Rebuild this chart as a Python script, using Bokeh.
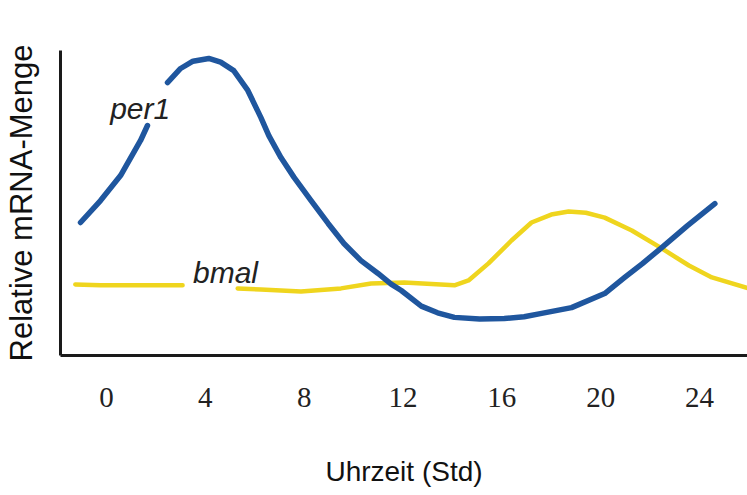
from bokeh.plotting import figure
from bokeh.models import Label, Range1d, FixedTicker
from bokeh.embed import file_html
from bokeh.resources import INLINE

NaN = float("nan")

# x ticks (hours)
tick_hours = [0, 4, 8, 12, 16, 20, 24]

# per1 (blue), gap where the label sits
per1_hours = [-1.05, -0.24, 0.57, 1.38, 1.66, NaN, 2.47, 3.0, 3.5, 4.14, 4.62, 5.15, 5.72, 6.25,
              6.57, 7.06, 7.59, 8.28, 8.97, 9.61, 10.30, 10.99, 11.52, 11.93, 12.74, 13.4, 14.08,
              15.1, 16.1, 16.9, 17.61, 18.82, 20.16, 20.97, 21.7, 22.47, 23.5, 24.62]
per1_values = [4.36, 5.08, 5.90, 7.05, 7.54, NaN, 8.95, 9.41, 9.65, 9.74, 9.62, 9.34, 8.69, 7.80,
               7.21, 6.49, 5.84, 5.08, 4.33, 3.67, 3.11, 2.69, 2.34, 2.13, 1.62, 1.40, 1.25,
               1.20, 1.21, 1.27, 1.38, 1.57, 2.03, 2.56, 3.02, 3.54, 4.25, 4.98]

# bmal (yellow), gap where the label sits
bmal_hours = [-1.26, -0.24, 0.97, 3.08, NaN, 5.31, 6.25, 7.87, 9.49, 10.71, 12.05, 14.08,
              14.65, 15.46, 16.39, 17.2, 18.0, 18.7, 19.4, 20.16, 21.26, 22.47, 23.57, 24.5, 26.0]
bmal_values = [2.33, 2.30, 2.30, 2.30, NaN, 2.20, 2.16, 2.10, 2.20, 2.36, 2.39, 2.30,
               2.46, 3.02, 3.77, 4.36, 4.62, 4.72, 4.68, 4.52, 4.10, 3.51, 2.95, 2.56, 2.20]

p = figure(width=747, height=495, output_backend="svg", toolbar_location=None,
           x_range=Range1d(-1.86, 25.94), y_range=Range1d(0, 10),
           min_border_left=60, min_border_top=50, min_border_bottom=140, min_border_right=0)
p.outline_line_color = None
p.grid.visible = False
p.background_fill_color = "white"
p.border_fill_color = "white"

p.line(bmal_hours, bmal_values, line_color="#efd51e", line_width=4.5, line_cap="round", line_join="round")
p.line(per1_hours, per1_values, line_color="#1f569e", line_width=5.5, line_cap="round", line_join="round")

p.add_layout(Label(x=0.15, y=8.1, text="per1", text_font="Liberation Sans", text_font_style="italic",
                   text_font_size="30px", text_color="#222222", text_baseline="middle"))
p.add_layout(Label(x=3.5, y=2.72, text="bmal", text_font="Liberation Sans", text_font_style="italic",
                   text_font_size="30px", text_color="#222222", text_baseline="middle"))

xa = p.xaxis[0]
xa.ticker = FixedTicker(ticks=tick_hours)
xa.major_tick_line_color = None
xa.minor_tick_line_color = None
xa.axis_line_width = 3
xa.axis_line_color = "#1a1a1a"
xa.major_label_text_font = "Liberation Serif"
xa.major_label_text_font_size = "29px"
xa.major_label_text_color = "#222222"
xa.major_label_standoff = 26
xa.axis_label = "Uhrzeit (Std)"
xa.axis_label_text_font = "Liberation Sans"
xa.axis_label_text_font_style = "normal"
xa.axis_label_text_font_size = "28px"
xa.axis_label_text_color = "#111111"
xa.axis_label_standoff = 46

ya = p.yaxis[0]
ya.major_tick_line_color = None
ya.minor_tick_line_color = None
ya.major_label_text_font_size = "0px"
ya.major_label_text_color = None
ya.major_label_standoff = 0
ya.axis_line_width = 3
ya.axis_line_color = "#1a1a1a"
ya.axis_label = "Relative mRNA-Menge"
ya.axis_label_text_font = "Liberation Sans"
ya.axis_label_text_font_style = "normal"
ya.axis_label_text_font_size = "31px"
ya.axis_label_text_color = "#111111"
ya.axis_label_standoff = 16

open("out.html", "w").write(file_html(p, INLINE))
